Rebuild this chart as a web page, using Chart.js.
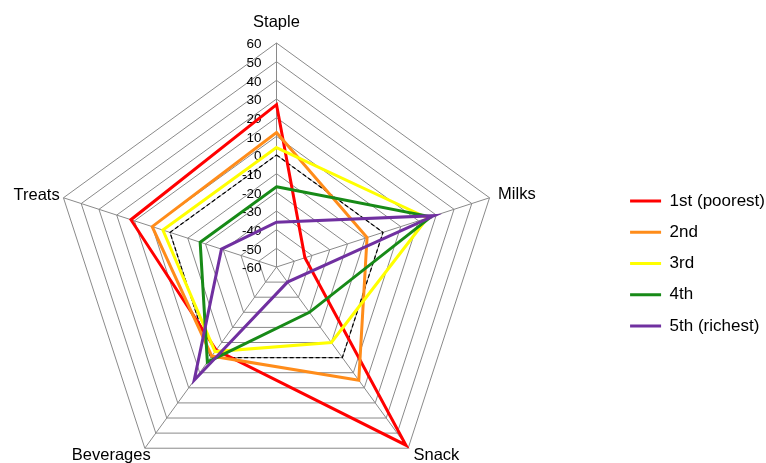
<!DOCTYPE html>
<html>
<head>
<meta charset="utf-8">
<script src="https://cdn.jsdelivr.net/npm/chart.js@4/dist/chart.umd.min.js"></script>
<style>
  html, body { margin: 0; padding: 0; background: #ffffff; }
  #wrap { width: 766px; height: 463px; }
</style>
</head>
<body>
<div id="wrap"><canvas id="c" width="766" height="463"></canvas></div>
<script>
// ---- data ----
const categories = ['Staple', 'Milks', 'Snack', 'Beverages', 'Treats'];
const seriesNames = ['1st (poorest)', '2nd', '3rd', '4th', '5th (richest)'];
const q1Poorest = [27, -44, 58, -5, 22];
const q2 = [12, -9, 15, -1, 10];
const q3 = [4, 25, -10, -4, 4];
const q4 = [-17, 27, -30, 3, -17];
const q5Richest = [-36, 29, -50, 15, -29];
const zeroLine = [0, 0, 0, 0, 0];
const tickLabels = ['-60', '-50', '-40', '-30', '-20', '-10', '0', '10', '20', '30', '40', '50', '60'];

// ---- styles ----
const FONT = '"Liberation Sans", Arial, Helvetica, sans-serif';
const seriesColors = ['#ff0000', '#ff8c1a', '#ffff00', '#178a17', '#7030a0'];
const labelPadding = [11, 9, 9, -10, 4];
const labelLineHeight = [1.2, 0.01, 0.01, 1.9, 0.12];
const GRID = '#8a8a8a';

const seriesValues = [q1Poorest, q2, q3, q4, q5Richest];
const datasets = seriesValues.map((vals, i) => ({
  label: seriesNames[i],
  data: vals,
  borderColor: seriesColors[i],
  backgroundColor: 'transparent',
  borderWidth: 3,
  pointRadius: 0,
  pointHoverRadius: 0,
  pointBorderWidth: 3,
  pointBorderColor: seriesColors[i],
  fill: false,
  clip: false,
  order: 5 - i
}));
datasets.push({
  label: 'zero',
  data: zeroLine,
  borderColor: '#000000',
  backgroundColor: 'transparent',
  borderWidth: 1.2,
  borderDash: [4, 2.5],
  pointRadius: 0,
  pointHoverRadius: 0,
  fill: false,
  clip: false,
  order: 10
});

const tickLabelPlugin = {
  id: 'tickLabelPlugin',
  beforeDatasetsDraw(chart) {
    const s = chart.scales.r;
    const ctx = chart.ctx;
    ctx.save();
    ctx.font = '13.5px ' + FONT;
    ctx.fillStyle = '#000000';
    ctx.textAlign = 'right';
    ctx.textBaseline = 'middle';
    s.ticks.forEach((t, i) => {
      const d = s.getDistanceFromCenterForValue(t.value);
      ctx.fillText(tickLabels[i], s.xCenter - 15, s.yCenter - d + 1.5);
    });
    ctx.restore();
  }
};

new Chart(document.getElementById('c'), {
  type: 'radar',
  data: { labels: categories, datasets: datasets },
  plugins: [tickLabelPlugin],
  options: {
    responsive: false,
    animation: false,
    events: [],
    layout: { padding: { top: 64, right: -9, left: 0, bottom: 0 } },
    elements: { line: { tension: 0 } },
    plugins: {
      tooltip: { enabled: false },
      legend: {
        position: 'right',
        labels: {
          filter: (item) => item.datasetIndex < seriesNames.length,
          sort: (a, b) => a.datasetIndex - b.datasetIndex,
          usePointStyle: true,
          pointStyle: 'line',
          pointStyleWidth: 31,
          padding: 14.2,
          color: '#000000',
          font: { family: FONT, size: 17 }
        }
      }
    },
    scales: {
      r: {
        min: -60,
        max: 60,
        ticks: { display: false, stepSize: 10 },
        grid: { color: GRID, lineWidth: 1 },
        angleLines: { color: GRID, lineWidth: 1 },
        pointLabels: {
          color: '#000000',
          padding: (ctx) => labelPadding[ctx.index],
          font: (ctx) => ({ family: FONT, size: 16.5, lineHeight: labelLineHeight[ctx.index] })
        },
        afterSetDimensions: (s) => {
          s.xCenter = 276.5;
          s.yCenter = 267;
          s.drawingArea = 224;
          s.left = -2000; s.right = 4000; s.top = -2000; s.bottom = 4000;
        }
      }
    }
  }
});
</script>
</body>
</html>
